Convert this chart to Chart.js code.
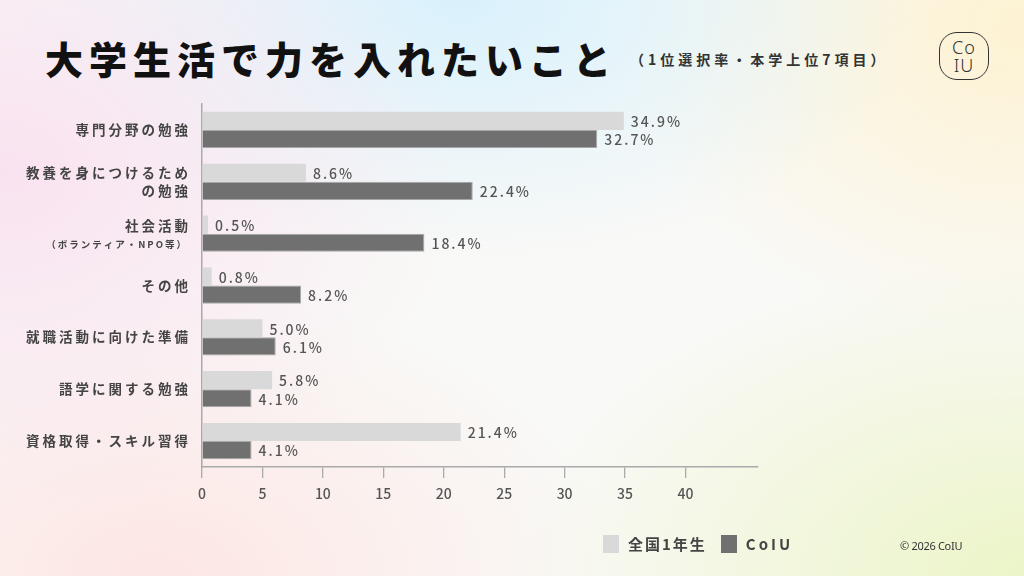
<!DOCTYPE html>
<html lang="ja">
<head>
<meta charset="utf-8">
<script src="https://cdn.jsdelivr.net/npm/chart.js@4/dist/chart.umd.min.js"></script>
<style>
  html, body { margin: 0; padding: 0; }
  body {
    width: 1024px; height: 576px; overflow: hidden; position: relative;
    font-family: "Noto Sans CJK JP", "Noto Sans", sans-serif;
    background:
      radial-gradient(ellipse 45% 60% at 0% 30%, #f9e2f0 0%, rgba(249,226,240,0) 100%),
      radial-gradient(ellipse 45% 45% at 45% 0%, #d9f1fc 0%, rgba(217,241,252,0) 100%),
      radial-gradient(ellipse 40% 55% at 100% 5%, #fdf2d2 0%, rgba(253,242,210,0) 100%),
      radial-gradient(ellipse 50% 55% at 100% 100%, #ecf5c8 0%, rgba(236,245,200,0) 100%),
      radial-gradient(ellipse 45% 50% at 15% 100%, #fde6e4 0%, rgba(253,230,228,0) 100%),
      #f9f9f7;
  }
  #title {
    position: absolute; left: 45px; top: 30px;
    font-size: 38px; font-weight: 900; letter-spacing: 6px; color: #111;
  }
  #sub {
    position: absolute; left: 630px; top: 49px;
    font-size: 14px; font-weight: 700; letter-spacing: 4px; color: #333;
  }
  #logo {
    position: absolute; left: 939px; top: 32px; width: 50px; height: 48px;
    border: 1.3px solid #333; border-radius: 18px;
    text-align: center; color: #333; font-weight: 300;
    font-size: 18px; line-height: 18px; padding-top: 5px; box-sizing: border-box;
    letter-spacing: 1px; font-family: "Noto Sans", sans-serif;
  }
  #chart { position: absolute; left: 0; top: 0; }
  #legend {
    position: absolute; left: 603px; top: 533px; display: flex; align-items: center;
    font-size: 15px; font-weight: 700; color: #444; letter-spacing: 2px;
  }
  .sw { width: 16px; height: 18px; display: inline-block; margin-right: 9px; }
  #copy {
    position: absolute; left: 900px; top: 538px; font-size: 11px; color: #333;
    font-family: "Noto Sans", sans-serif; letter-spacing: -0.3px;
  }
</style>
</head>
<body>
<div id="title">大学生活で力を入れたいこと</div>
<div id="sub">（1位選択率・本学上位7項目）</div>
<div id="logo">Co<br>IU</div>
<canvas id="chart" width="1024" height="576"></canvas>
<div id="legend">
  <span class="sw" style="background:#d9d9d9"></span><span style="margin-right:14px">全国1年生</span>
  <span class="sw" style="background:#707070"></span><span style="letter-spacing:3px">CoIU</span>
</div>
<div id="copy">© 2026 CoIU</div>
<script>
const categoryLines = [
  ['専門分野の勉強'],
  ['教養を身につけるため', 'の勉強'],
  ['社会活動', '（ボランティア・NPO等）'],
  ['その他'],
  ['就職活動に向けた準備'],
  ['語学に関する勉強'],
  ['資格取得・スキル習得']
];
const seriesNames = ['全国1年生', 'CoIU'];
const nationalValues = [34.9, 8.6, 0.5, 0.8, 5.0, 5.8, 21.4];
const coiuValues = [32.7, 22.4, 18.4, 8.2, 6.1, 4.1, 4.1];
const xTicks = [0, 5, 10, 15, 20, 25, 30, 35, 40];

const FONT = '"Noto Sans CJK JP", "Noto Sans", sans-serif';

// category labels next to the y axis (second line of some labels is smaller)
const categoryLabelPlugin = {
  id: 'categoryLabels',
  afterDraw(chart) {
    const ctx = chart.ctx;
    const yScale = chart.scales.y;
    const x = chart.chartArea.left - 11;
    ctx.save();
    ctx.fillStyle = '#444';
    ctx.textAlign = 'right';
    ctx.textBaseline = 'middle';
    categoryLines.forEach((lines, i) => {
      const yc = yScale.getPixelForValue(i);
      ctx.font = 'bold 13.5px ' + FONT;
      ctx.letterSpacing = '3px';
      if (lines.length === 1) {
        ctx.fillText(lines[0], x, yc);
      } else if (i === 2) {
        ctx.fillText(lines[0], x, yc - 8);
        ctx.font = 'bold 9.5px ' + FONT;
        ctx.letterSpacing = '2px';
        ctx.fillText(lines[1], x - 3, yc + 11);
      } else {
        ctx.fillText(lines[0], x, yc - 9);
        ctx.fillText(lines[1], x, yc + 9);
      }
    });
    ctx.restore();
  }
};

// value labels at the end of each bar
const valueLabelPlugin = {
  id: 'valueLabels',
  afterDatasetsDraw(chart) {
    const ctx = chart.ctx;
    ctx.save();
    ctx.font = '500 14px ' + FONT;
    ctx.letterSpacing = '2px';
    ctx.fillStyle = '#555';
    ctx.textAlign = 'left';
    ctx.textBaseline = 'middle';
    chart.data.datasets.forEach((ds, di) => {
      chart.getDatasetMeta(di).data.forEach((bar, i) => {
        ctx.fillText(ds.data[i].toFixed(1) + '%', bar.x + 7, bar.y + 1);
      });
    });
    ctx.restore();
  }
};

new Chart(document.getElementById('chart'), {
  type: 'bar',
  data: {
    labels: categoryLines.map(l => l.join('')),
    datasets: [
      {
        label: seriesNames[0],
        data: nationalValues,
        backgroundColor: '#d9d9d9',
        borderWidth: 0,
        categoryPercentage: 0.7,
        barPercentage: 1.0
      },
      {
        label: seriesNames[1],
        data: coiuValues,
        backgroundColor: '#707070',
        borderColor: '#a8a8a8',
        borderWidth: 1,
        categoryPercentage: 0.7,
        barPercentage: 1.0
      }
    ]
  },
  options: {
    indexAxis: 'y',
    responsive: false,
    animation: false,
    devicePixelRatio: 1,
    layout: { padding: { left: 202, right: 266, top: 104, bottom: 69 } },
    plugins: {
      legend: { display: false },
      tooltip: { enabled: false }
    },
    scales: {
      x: {
        type: 'linear',
        min: 0,
        max: 46,
        afterBuildTicks(scale) {
          scale.ticks = xTicks.map(v => ({ value: v }));
        },
        afterFit(scale) { scale.height = 40; },
        grid: {
          drawOnChartArea: false,
          drawTicks: true,
          tickLength: 11,
          color: '#aaa',
          lineWidth: 1.3
        },
        border: { color: '#aaa', width: 1.5 },
        ticks: {
          padding: 7,
          color: '#555',
          font: { family: FONT, size: 14, weight: '500' }
        }
      },
      y: {
        afterFit(scale) { scale.width = 0; },
        grid: { display: false },
        border: { color: '#aaa', width: 1.5 },
        ticks: { display: false }
      }
    }
  },
  plugins: [categoryLabelPlugin, valueLabelPlugin]
});
</script>
</body>
</html>
